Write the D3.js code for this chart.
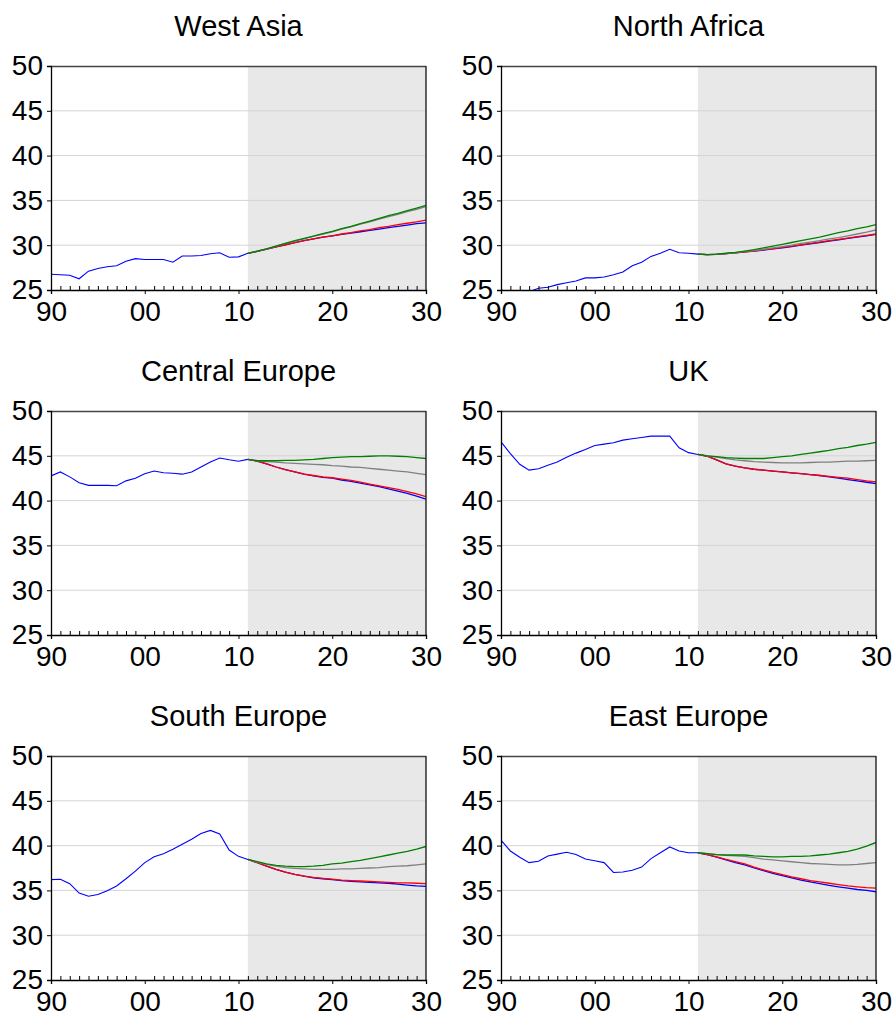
<!DOCTYPE html>
<html>
<head>
<meta charset="utf-8">
<script src="https://cdn.jsdelivr.net/npm/d3@7"></script>
<style>
  html, body { margin: 0; padding: 0; background: #fff; }
  svg { display: block; font-family: "Liberation Sans", Arial, sans-serif; }
</style>
</head>
<body>
<svg id="chart" width="893" height="1016"></svg>
<script>
// Region names, in reading order (left-right, top-bottom)
const regions = ["West Asia", "North Africa", "Central Europe", "UK", "South Europe", "East Europe"];

// Year axes
const historyYears = d3.range(1990, 2012);   // 1990..2011
const forecastYears = d3.range(2011, 2031);  // 2011..2030
const yTicks = [25, 30, 35, 40, 45, 50];
const xTickYears = [1990, 2000, 2010, 2020, 2030];
const xTickLabels = ["90", "00", "10", "20", "30"];

// Observed history, 1990..2011
const historyWestAsia = [26.75, 26.7, 26.65, 26.25, 27.1, 27.4, 27.6, 27.7, 28.2, 28.5, 28.4, 28.4, 28.4, 28.1, 28.8, 28.8, 28.85, 29.05, 29.15, 28.65, 28.7, 29.1];
const historyNorthAfrica = [25.0, 24.8, 24.7, 24.8, 25.2, 25.3, 25.6, 25.8, 26.0, 26.35, 26.35, 26.45, 26.7, 27.0, 27.7, 28.1, 28.75, 29.1, 29.55, 29.15, 29.1, 29.0];
const historyCentralEurope = [42.76, 43.2, 42.65, 42.0, 41.7, 41.7, 41.7, 41.65, 42.2, 42.5, 43.0, 43.3, 43.1, 43.05, 42.95, 43.2, 43.75, 44.3, 44.75, 44.55, 44.4, 44.6];
const historyUK = [46.55, 45.25, 44.05, 43.4, 43.55, 43.95, 44.3, 44.85, 45.3, 45.7, 46.15, 46.3, 46.45, 46.75, 46.9, 47.05, 47.2, 47.2, 47.2, 45.9, 45.35, 45.15];
const historySouthEurope = [36.2, 36.25, 35.75, 34.7, 34.35, 34.55, 34.95, 35.5, 36.3, 37.15, 38.1, 38.75, 39.1, 39.6, 40.15, 40.7, 41.35, 41.7, 41.3, 39.5, 38.8, 38.45];
const historyEastEurope = [40.6, 39.4, 38.7, 38.1, 38.25, 38.85, 39.05, 39.25, 39.0, 38.5, 38.3, 38.1, 37.0, 37.05, 37.25, 37.6, 38.55, 39.2, 39.85, 39.4, 39.2, 39.2];

// Projection scenarios, 2011..2030
const blueWestAsia  = [29.1, 29.3, 29.55, 29.8, 30.05, 30.3, 30.5, 30.7, 30.9, 31.05, 31.2, 31.35, 31.5, 31.65, 31.8, 31.95, 32.1, 32.25, 32.4, 32.5];
const redWestAsia   = [29.1, 29.3, 29.55, 29.8, 30.05, 30.3, 30.5, 30.7, 30.9, 31.05, 31.25, 31.4, 31.6, 31.75, 31.95, 32.1, 32.3, 32.45, 32.6, 32.8];
const grayWestAsia  = [29.1, 29.35, 29.6, 29.9, 30.2, 30.45, 30.7, 31.0, 31.25, 31.5, 31.8, 32.05, 32.35, 32.6, 32.9, 33.2, 33.45, 33.75, 34.0, 34.3];
const greenWestAsia = [29.1, 29.35, 29.6, 29.9, 30.2, 30.5, 30.75, 31.0, 31.3, 31.55, 31.85, 32.1, 32.4, 32.7, 33.0, 33.3, 33.55, 33.85, 34.15, 34.45];

const blueNorthAfrica  = [29.0, 28.95, 28.98, 29.05, 29.15, 29.25, 29.35, 29.45, 29.6, 29.7, 29.85, 30.0, 30.15, 30.3, 30.45, 30.6, 30.75, 30.9, 31.05, 31.2];
const redNorthAfrica   = [29.0, 28.95, 28.98, 29.05, 29.15, 29.25, 29.35, 29.5, 29.6, 29.75, 29.9, 30.05, 30.2, 30.35, 30.5, 30.65, 30.8, 30.95, 31.1, 31.25];
const grayNorthAfrica  = [29.0, 28.95, 29.0, 29.05, 29.15, 29.3, 29.4, 29.55, 29.7, 29.85, 30.0, 30.2, 30.35, 30.5, 30.7, 30.85, 31.05, 31.25, 31.45, 31.7];
const greenNorthAfrica = [29.0, 28.95, 29.0, 29.1, 29.2, 29.35, 29.5, 29.7, 29.9, 30.1, 30.3, 30.5, 30.7, 30.9, 31.15, 31.4, 31.6, 31.85, 32.05, 32.3];

const blueCentralEurope  = [44.6, 44.4, 44.1, 43.75, 43.45, 43.2, 42.95, 42.75, 42.6, 42.5, 42.3, 42.15, 41.95, 41.75, 41.55, 41.3, 41.05, 40.8, 40.5, 40.15];
const redCentralEurope   = [44.6, 44.4, 44.1, 43.75, 43.45, 43.2, 42.95, 42.8, 42.65, 42.55, 42.4, 42.25, 42.05, 41.85, 41.65, 41.45, 41.25, 41.0, 40.75, 40.45];
const grayCentralEurope  = [44.6, 44.45, 44.35, 44.3, 44.2, 44.15, 44.1, 44.05, 44.0, 43.9, 43.85, 43.75, 43.7, 43.6, 43.5, 43.4, 43.3, 43.2, 43.05, 42.9];
const greenCentralEurope = [44.6, 44.45, 44.45, 44.45, 44.5, 44.5, 44.55, 44.6, 44.7, 44.8, 44.85, 44.9, 44.9, 44.95, 45.0, 45.0, 44.95, 44.9, 44.8, 44.7];

const blueUK  = [45.15, 44.95, 44.55, 44.1, 43.85, 43.65, 43.5, 43.4, 43.3, 43.2, 43.1, 43.0, 42.9, 42.8, 42.65, 42.5, 42.35, 42.2, 42.05, 41.9];
const redUK   = [45.15, 44.95, 44.55, 44.1, 43.85, 43.65, 43.5, 43.4, 43.3, 43.2, 43.1, 43.0, 42.9, 42.8, 42.7, 42.6, 42.5, 42.35, 42.2, 42.1];
const grayUK  = [45.15, 45.0, 44.85, 44.7, 44.55, 44.45, 44.35, 44.3, 44.25, 44.2, 44.2, 44.2, 44.25, 44.3, 44.3, 44.35, 44.4, 44.4, 44.45, 44.5];
const greenUK = [45.15, 45.0, 44.9, 44.8, 44.75, 44.7, 44.7, 44.7, 44.8, 44.9, 45.0, 45.15, 45.3, 45.45, 45.6, 45.8, 45.95, 46.15, 46.3, 46.5];

const blueSouthEurope  = [38.45, 38.1, 37.7, 37.35, 37.05, 36.8, 36.6, 36.4, 36.3, 36.2, 36.1, 36.0, 35.95, 35.9, 35.85, 35.8, 35.7, 35.6, 35.5, 35.45];
const redSouthEurope   = [38.45, 38.1, 37.7, 37.35, 37.05, 36.8, 36.6, 36.45, 36.35, 36.25, 36.15, 36.1, 36.05, 36.0, 35.95, 35.9, 35.85, 35.85, 35.8, 35.75];
const graySouthEurope  = [38.45, 38.15, 37.9, 37.7, 37.55, 37.45, 37.4, 37.35, 37.35, 37.35, 37.4, 37.4, 37.45, 37.5, 37.55, 37.65, 37.7, 37.75, 37.85, 37.95];
const greenSouthEurope = [38.45, 38.2, 37.95, 37.8, 37.7, 37.65, 37.65, 37.7, 37.8, 37.95, 38.05, 38.2, 38.35, 38.55, 38.75, 38.95, 39.15, 39.35, 39.6, 39.9];

const blueEastEurope  = [39.2, 39.0, 38.7, 38.4, 38.1, 37.85, 37.5, 37.2, 36.9, 36.65, 36.4, 36.15, 35.95, 35.75, 35.55, 35.4, 35.25, 35.1, 35.0, 34.85];
const redEastEurope   = [39.2, 39.0, 38.75, 38.45, 38.2, 37.95, 37.6, 37.3, 37.0, 36.75, 36.5, 36.3, 36.1, 35.95, 35.8, 35.65, 35.5, 35.4, 35.3, 35.25];
const grayEastEurope  = [39.2, 39.1, 39.0, 38.9, 38.85, 38.8, 38.65, 38.5, 38.4, 38.3, 38.2, 38.1, 38.0, 37.95, 37.9, 37.85, 37.85, 37.9, 38.0, 38.1];
const greenEastEurope = [39.2, 39.1, 39.0, 38.95, 38.95, 38.95, 38.85, 38.8, 38.75, 38.75, 38.8, 38.8, 38.85, 38.95, 39.05, 39.2, 39.35, 39.6, 39.95, 40.35];

const histories = [historyWestAsia, historyNorthAfrica, historyCentralEurope, historyUK, historySouthEurope, historyEastEurope];
const forecasts = [
  { blue: blueWestAsia, red: redWestAsia, gray: grayWestAsia, green: greenWestAsia },
  { blue: blueNorthAfrica, red: redNorthAfrica, gray: grayNorthAfrica, green: greenNorthAfrica },
  { blue: blueCentralEurope, red: redCentralEurope, gray: grayCentralEurope, green: greenCentralEurope },
  { blue: blueUK, red: redUK, gray: grayUK, green: greenUK },
  { blue: blueSouthEurope, red: redSouthEurope, gray: graySouthEurope, green: greenSouthEurope },
  { blue: blueEastEurope, red: redEastEurope, gray: grayEastEurope, green: greenEastEurope }
];

// Scenario colours and drawing order (later ones sit on top)
const scenarioOrder = ["blue", "red", "gray", "green"];
const scenarioColor = { blue: "#0000ff", red: "#ff0000", gray: "#808080", green: "#008000" };

// Panel grid geometry
const colLeft = [51, 501];
const plotW = 375;
const rowTop = [66, 411, 756];
const plotH = 224;
const tickFont = 28;
const titleFont = 29;

const svg = d3.select("#chart");

regions.forEach((name, i) => {
  const col = i % 2, row = Math.floor(i / 2);
  const g = svg.append("g").attr("transform", `translate(${colLeft[col]},${rowTop[row]})`);

  const x = d3.scaleLinear().domain([1990, 2030]).range([0, plotW]);
  const y = d3.scaleLinear().domain([25, 50]).range([plotH, 0]);

  // forecast-period shading
  g.append("rect")
    .attr("x", x(2011)).attr("y", 0)
    .attr("width", x(2030) - x(2011)).attr("height", plotH)
    .attr("fill", "#e8e8e8");

  // horizontal grid
  g.append("g").selectAll("line")
    .data(yTicks.filter(v => v > 25 && v < 50))
    .join("line")
    .attr("x1", 0).attr("x2", plotW)
    .attr("y1", d => y(d)).attr("y2", d => y(d))
    .attr("stroke", "#d4d4d4").attr("stroke-width", 1);

  // clip lines to the plot box
  const clipId = "clip" + i;
  g.append("clipPath").attr("id", clipId)
    .append("rect").attr("width", plotW).attr("height", plotH);

  const line = d3.line().x(d => x(d[0])).y(d => y(d[1]));
  const lines = g.append("g").attr("clip-path", `url(#${clipId})`);

  scenarioOrder.forEach(key => {
    lines.append("path")
      .datum(forecastYears.map((yr, k) => [yr, forecasts[i][key][k]]))
      .attr("d", line)
      .attr("fill", "none")
      .attr("stroke", scenarioColor[key])
      .attr("stroke-width", 1.3);
  });

  lines.append("path")
    .datum(historyYears.map((yr, k) => [yr, histories[i][k]]))
    .attr("d", line)
    .attr("fill", "none")
    .attr("stroke", "#0000ff")
    .attr("stroke-width", 1.1);

  // frame: top and right edges
  g.append("line").attr("x1", 0).attr("x2", plotW).attr("y1", 0.5).attr("y2", 0.5)
    .attr("stroke", "#444").attr("stroke-width", 1.6);
  g.append("line").attr("x1", plotW).attr("x2", plotW).attr("y1", 0).attr("y2", plotH)
    .attr("stroke", "#222").attr("stroke-width", 1.4);

  // y axis
  const yAxis = g.append("g")
    .call(d3.axisLeft(y).tickValues(yTicks).tickSize(4).tickPadding(4).tickFormat(d3.format("d")));
  yAxis.select(".domain").attr("stroke", "#000").attr("stroke-width", 1.3);
  yAxis.selectAll(".tick line").attr("stroke", "#000");
  yAxis.selectAll("text").attr("font-size", tickFont).attr("fill", "#000")
    .attr("font-family", "Liberation Sans, Arial, sans-serif");

  // x axis: yearly minor ticks inside, decade ticks outside
  const xMinor = g.append("g").attr("transform", `translate(0,${plotH})`)
    .call(d3.axisBottom(x).tickValues(d3.range(1991, 2030).filter(v => v % 10 !== 0))
      .tickSize(-4).tickFormat(""));
  xMinor.select(".domain").remove();
  xMinor.selectAll(".tick line").attr("stroke", "#000");

  const xAxis = g.append("g").attr("transform", `translate(0,${plotH})`)
    .call(d3.axisBottom(x).tickValues(xTickYears).tickSize(4).tickPadding(7)
      .tickFormat((d, k) => xTickLabels[k]));
  xAxis.select(".domain").attr("stroke", "#000").attr("stroke-width", 1.3);
  xAxis.selectAll(".tick line").attr("stroke", "#000");
  xAxis.selectAll("text").attr("font-size", tickFont).attr("fill", "#000")
    .attr("font-family", "Liberation Sans, Arial, sans-serif");

  // panel title
  g.append("text")
    .attr("x", plotW / 2).attr("y", -30)
    .attr("text-anchor", "middle")
    .attr("font-size", titleFont)
    .attr("fill", "#000")
    .text(name);
});
</script>
</body>
</html>
